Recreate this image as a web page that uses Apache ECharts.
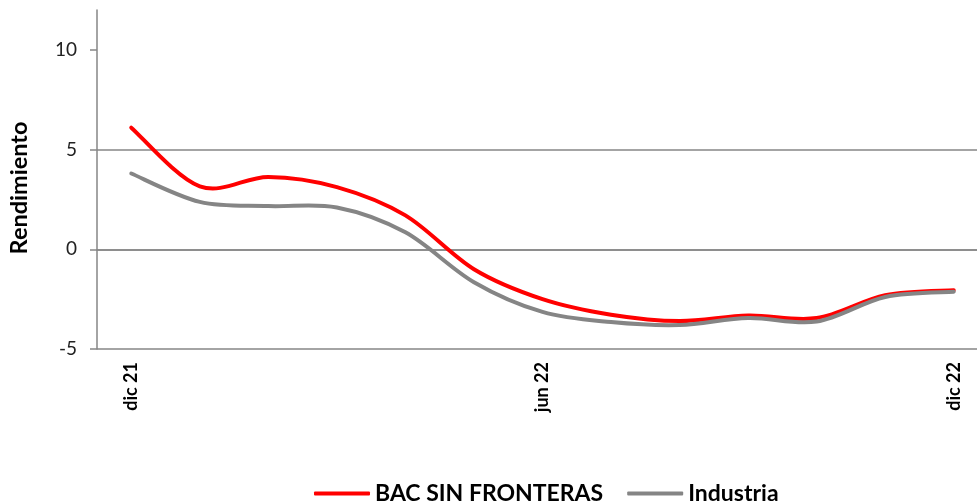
<!DOCTYPE html>
<html>
<head>
<meta charset="utf-8">
<script src="https://cdn.jsdelivr.net/npm/echarts@6/dist/echarts.min.js"></script>
<style>html,body{margin:0;padding:0;background:#fff}#c{width:977px;height:504px}</style>
</head>
<body>
<div id="c"></div>
<script>
const categories = ['dic 21','ene 22','feb 22','mar 22','abr 22','may 22','jun 22','jul 22','ago 22','sep 22','oct 22','nov 22','dic 22'];
const bacSinFronteras = [6.1, 3.16, 3.63, 3.12, 1.7, -1.0, -2.5, -3.28, -3.6, -3.32, -3.45, -2.3, -2.05];
const industria = [3.8, 2.38, 2.17, 2.1, 0.85, -1.65, -3.14, -3.65, -3.8, -3.45, -3.62, -2.39, -2.13];
const yTicks = [-5, 0, 5, 10];
const seriesNames = ['BAC SIN FRONTERAS', 'Industria'];
const seriesColors = ['#ff0000', '#858585'];
const yTitle = 'Rendimiento';

const font = 'Lato';

// Smooth curve (Catmull-Rom style Bezier) through the data points, positioned by the axes.
function splineRenderer(values, color) {
  return function (params, api) {
    if (params.dataIndex !== 0) return null;
    const pts = values.map((v, i) => api.coord([i, v]));
    const n = pts.length;
    const P = i => pts[Math.max(0, Math.min(n - 1, i))];
    let d = 'M' + pts[0][0] + ' ' + pts[0][1];
    for (let i = 0; i < n - 1; i++) {
      const p0 = P(i - 1), p1 = P(i), p2 = P(i + 1), p3 = P(i + 2);
      const c1x = p1[0] + (p2[0] - p0[0]) / 6, c1y = p1[1] + (p2[1] - p0[1]) / 6;
      const c2x = p2[0] - (p3[0] - p1[0]) / 6, c2y = p2[1] - (p3[1] - p1[1]) / 6;
      d += ' C' + c1x + ' ' + c1y + ' ' + c2x + ' ' + c2y + ' ' + p2[0] + ' ' + p2[1];
    }
    return {
      type: 'path',
      shape: {pathData: d},
      style: {fill: 'none', stroke: color, lineWidth: 4, lineCap: 'round', lineJoin: 'round'}
    };
  };
}

const chart = echarts.init(document.getElementById('c'), null, {renderer: 'canvas'});
chart.setOption({
  animation: false,
  color: seriesColors,
  grid: {left: 97, top: 10, width: 891, height: 339, outerBoundsMode: 'none', containLabel: false},
  graphic: [{
    type: 'text', x: 19, y: 188, rotation: Math.PI / 2,
    style: {text: yTitle, textAlign: 'center', textVerticalAlign: 'middle',
      font: 'bold 23.5px ' + font, fill: '#000'}
  }],
  legend: {
    top: 482, left: 314, itemWidth: 56, itemHeight: 4, itemGap: 24, padding: 0,
    textStyle: {fontFamily: font, fontWeight: 'bold', fontSize: 23, color: '#000'},
    data: [
      {name: seriesNames[0], icon: 'roundRect', itemStyle: {color: seriesColors[0]}},
      {name: seriesNames[1], icon: 'roundRect', itemStyle: {color: seriesColors[1]}}
    ]
  },
  xAxis: {
    type: 'category', data: categories, boundaryGap: true,
    axisLine: {lineStyle: {color: '#868686', width: 1.5}},
    axisTick: {interval: 5, length: 7, lineStyle: {color: '#868686', width: 1.5}},
    axisLabel: {interval: 5, rotate: 90, margin: 13, fontFamily: font, fontWeight: 'bold',
      fontSize: 18, color: '#000'}
  },
  yAxis: {
    type: 'value', min: -5, max: 12, interval: 5,
    axisLine: {show: true, lineStyle: {color: '#868686', width: 1.5}},
    axisTick: {show: true, length: 7, customValues: yTicks, lineStyle: {color: '#868686', width: 1.5}},
    axisLabel: {customValues: yTicks, margin: 20, fontFamily: font, fontSize: 19, color: '#222'},
    splitLine: {show: true, showMaxLine: false, lineStyle: {color: '#868686', width: 1.5}}
  },
  series: [
    {name: seriesNames[0], type: 'custom', renderItem: splineRenderer(bacSinFronteras, seriesColors[0]),
      data: bacSinFronteras.map((v, i) => [i, v]), encode: {x: 0, y: 1},
      itemStyle: {color: seriesColors[0]}, z: 2, clip: false},
    {name: seriesNames[1], type: 'custom', renderItem: splineRenderer(industria, seriesColors[1]),
      data: industria.map((v, i) => [i, v]), encode: {x: 0, y: 1},
      itemStyle: {color: seriesColors[1]}, z: 3, clip: false}
  ]
});
</script>
</body>
</html>
